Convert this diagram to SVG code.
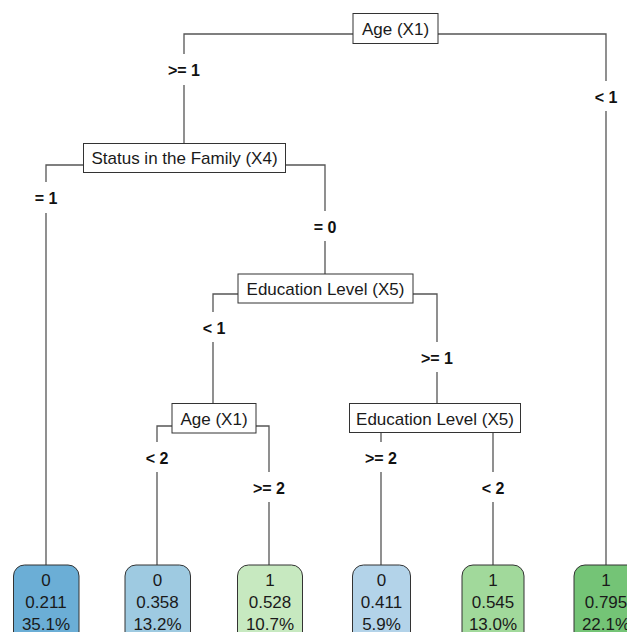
<svg xmlns="http://www.w3.org/2000/svg" width="627" height="632" viewBox="0 0 627 632">
<style>
.bg{fill:#ffffff}
.edge{fill:none;stroke:#555555;stroke-width:1.3}
.box{fill:#ffffff;stroke:#333333;stroke-width:1}
.leaf{stroke:#333333;stroke-width:1}
.t{font-family:"Liberation Sans",Arial,sans-serif;font-size:17px;fill:#1a1a1a;text-anchor:middle}
.lab{font-family:"Liberation Sans",Arial,sans-serif;font-size:16px;font-weight:bold;fill:#111111;text-anchor:middle}
</style>
<rect class="bg" x="0" y="0" width="627" height="632"/>
<g id="connectors">
<path class="edge" d="M353,34 H184 V54 M184,85 V143"/>
<path class="edge" d="M438,34 H606 V81 M606,111 V565"/>
<path class="edge" d="M83,165 H46 V182 M46,213 V565"/>
<path class="edge" d="M286,165 H325 V211 M325,241 V274"/>
<path class="edge" d="M238,294 H213 V312 M213,342 V403"/>
<path class="edge" d="M413,294 H437 V342 M437,372 V403"/>
<path class="edge" d="M172,426 H157 V442 M157,472 V565"/>
<path class="edge" d="M256,426 H269 V472 M269,502 V565"/>
<path class="edge" d="M381,432 V442 M381,472 V565"/>
<path class="edge" d="M493,432 V472 M493,502 V565"/>
<text class="lab" x="184" y="76">&gt;= 1</text>
<text class="lab" x="606" y="103">&lt; 1</text>
<text class="lab" x="46" y="204">= 1</text>
<text class="lab" x="325" y="233">= 0</text>
<text class="lab" x="214" y="334">&lt; 1</text>
<text class="lab" x="437" y="364">&gt;= 1</text>
<text class="lab" x="157" y="464">&lt; 2</text>
<text class="lab" x="269" y="494">&gt;= 2</text>
<text class="lab" x="381" y="464">&gt;= 2</text>
<text class="lab" x="493" y="494">&lt; 2</text>
</g>
<g id="n_root">
<rect class="box" x="353" y="13.5" width="85" height="30"/>
<text class="t" x="395.5" y="34.5">Age (X1)</text>
</g>
<g id="n_status">
<rect class="box" x="83.5" y="143.5" width="202" height="29"/>
<text class="t" x="184.5" y="164">Status in the Family (X4)</text>
</g>
<g id="n_edu1">
<rect class="box" x="238" y="274" width="175" height="29"/>
<text class="t" x="325.5" y="294.5">Education Level (X5)</text>
</g>
<g id="n_age2">
<rect class="box" x="172" y="403.5" width="84" height="29.5"/>
<text class="t" x="214" y="424.5">Age (X1)</text>
</g>
<g id="n_edu2">
<rect class="box" x="349.5" y="403.5" width="171" height="29"/>
<text class="t" x="435" y="424.5">Education Level (X5)</text>
</g>
<g id="leaf1">
<rect class="leaf" x="13.5" y="565" width="65.5" height="85" rx="11" fill="#6baed6"/>
<text class="t" x="46" y="586">0</text>
<text class="t" x="46" y="608">0.211</text>
<text class="t" x="46" y="630">35.1%</text>
</g>
<g id="leaf2">
<rect class="leaf" x="125" y="565" width="65.5" height="85" rx="11" fill="#9ecae1"/>
<text class="t" x="157.5" y="586">0</text>
<text class="t" x="157.5" y="608">0.358</text>
<text class="t" x="157.5" y="630">13.2%</text>
</g>
<g id="leaf3">
<rect class="leaf" x="237.5" y="565" width="65" height="85" rx="11" fill="#c7e9c0"/>
<text class="t" x="270" y="586">1</text>
<text class="t" x="270" y="608">0.528</text>
<text class="t" x="270" y="630">10.7%</text>
</g>
<g id="leaf4">
<rect class="leaf" x="352.5" y="565" width="58" height="85" rx="11" fill="#b3d3e9"/>
<text class="t" x="381.5" y="586">0</text>
<text class="t" x="381.5" y="608">0.411</text>
<text class="t" x="381.5" y="630">5.9%</text>
</g>
<g id="leaf5">
<rect class="leaf" x="462" y="565" width="62" height="85" rx="11" fill="#a1d99b"/>
<text class="t" x="493" y="586">1</text>
<text class="t" x="493" y="608">0.545</text>
<text class="t" x="493" y="630">13.0%</text>
</g>
<g id="leaf6">
<rect class="leaf" x="574" y="565" width="65" height="85" rx="11" fill="#74c476"/>
<text class="t" x="606" y="586">1</text>
<text class="t" x="606" y="608">0.795</text>
<text class="t" x="606" y="630">22.1%</text>
</g>
</svg>
